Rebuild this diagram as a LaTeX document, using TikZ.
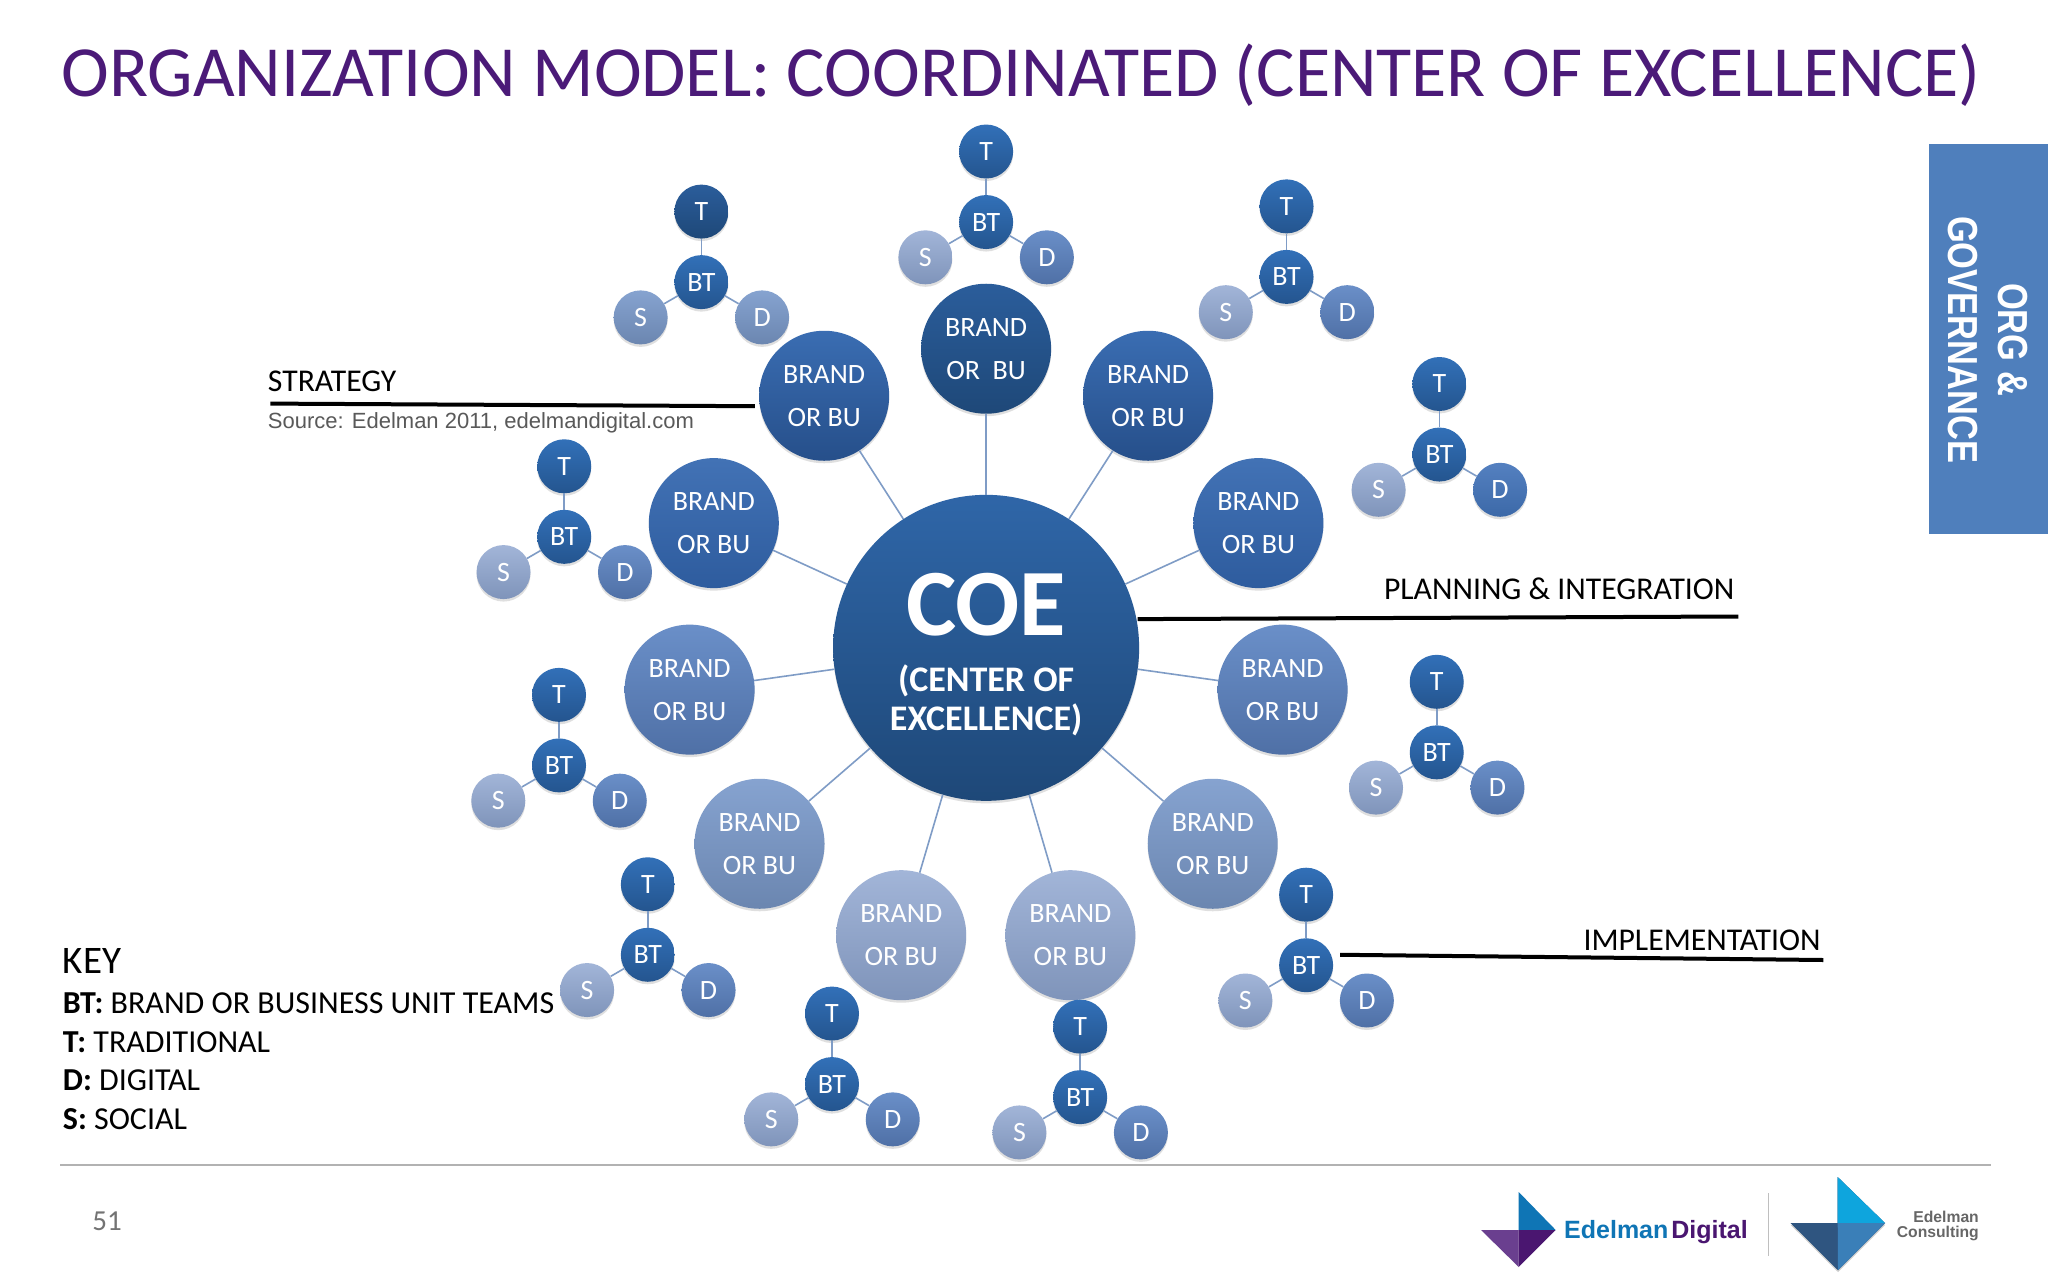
\documentclass[tikz,border=0pt]{standalone}
\usepackage{fontspec}
\setmainfont{Carlito}
\newfontfamily\arialf{Liberation Sans}
\usetikzlibrary{shadows}
\definecolor{titlecol}{HTML}{4B1A78}
\definecolor{tabcol}{HTML}{4F7FBC}
\definecolor{linkcol}{HTML}{7F9CC6}
\definecolor{lA1}{HTML}{2B5D9B}\definecolor{lA2}{HTML}{1E4878}
\definecolor{lB1}{HTML}{3270B8}\definecolor{lB2}{HTML}{24558F}
\definecolor{lG1}{HTML}{3A6DB2}\definecolor{lG2}{HTML}{264F8A}
\definecolor{lH1}{HTML}{4272B5}\definecolor{lH2}{HTML}{2E5C9E}
\definecolor{lC1}{HTML}{5480C0}\definecolor{lC2}{HTML}{3C69A8}
\definecolor{lD1}{HTML}{6A8FC8}\definecolor{lD2}{HTML}{4F70A6}
\definecolor{lE1}{HTML}{86A3D0}\definecolor{lE2}{HTML}{6B86B0}
\definecolor{lF1}{HTML}{A2B5D8}\definecolor{lF2}{HTML}{7F94BA}
\definecolor{coetop}{HTML}{2F66A8}
\definecolor{logoblue}{HTML}{0F75B5}
\definecolor{logopurple}{HTML}{4A1670}
\definecolor{logolav}{HTML}{6A3F8F}
\definecolor{logosky}{HTML}{0EA5DD}
\definecolor{logonavy}{HTML}{2F5580}
\definecolor{logomid}{HTML}{3A7FB8}
\tikzset{
  x=1.30612pt,y=-1.30612pt,
  bub/.style={circle,inner sep=0pt,text=white,align=center,
    drop shadow={opacity=.25,shadow xshift=0pt,shadow yshift=-2.5pt}},
  small/.style={bub,minimum size=54pt,font=\fontsize{28}{28}\selectfont},
  brand/.style={bub,minimum size=130pt,font=\fontsize{28}{43}\selectfont},
  lvA/.style={top color=lA1,bottom color=lA2},
  lvB/.style={top color=lB1,bottom color=lB2},
  lvC/.style={top color=lC1,bottom color=lC2},
  lvD/.style={top color=lD1,bottom color=lD2},
  lvE/.style={top color=lE1,bottom color=lE2},
  lvF/.style={top color=lF1,bottom color=lF2},
  lvG/.style={top color=lG1,bottom color=lG2},
  lvH/.style={top color=lH1,bottom color=lH2},
  link/.style={draw=linkcol,line width=1.6pt},
  callout/.style={draw=black,line width=4pt},
  lbl/.style={inner sep=0pt,text=black,font=\fontsize{31.7}{32}\selectfont},
  keyline/.style={inner sep=0pt,text=black,anchor=west,font=\fontsize{32}{32}\selectfont},
}
\newcommand{\cluster}[7]{%
  \node[small,#4] (#1t) at (#2,#3-54) {T};
  \node[small,#5] (#1b) at (#2,#3) {BT};
  \node[small,#6] (#1s) at (#2-46.5,#3+27) {S};
  \node[small,#7] (#1d) at (#2+46.5,#3+27) {D};
  \draw[link] (#1b) -- (#1t);
  \draw[link] (#1b) -- (#1s);
  \draw[link] (#1b) -- (#1d);
}
\newcommand{\brandnode}[4]{%
  \node[brand,#4] (#1) at (#2,#3) {BRAND\\OR BU};
  \draw[link] (coe) -- (#1);
}
\begin{document}
\begin{tikzpicture}
\useasboundingbox (0,0) rectangle (1568,980);
\fill[white] (0,0) rectangle (1568,980);
\node[anchor=base west,inner sep=0pt,text=titlecol,font=\fontsize{72}{72}\selectfont] (title) at (47,74) {ORGANIZATION MODEL: COORDINATED (CENTER OF EXCELLENCE)};
% side tab
\fill[tabcol] (1476.5,110) rectangle (1568,409);
\node[rotate=-90,text=white,align=center,inner sep=0pt,font=\arialf\bfseries\fontsize{42}{50}\selectfont] (tab) at (1522,260) {\scalebox{.82}[1]{ORG \&}\\\scalebox{.82}[1]{GOVERNANCE}};
% centre
\node[bub,minimum size=306pt,top color=coetop,bottom color=lA2] (coe) at (755,496) {};
\node[inner sep=0pt,text=white,font=\fontsize{95}{95}\selectfont\bfseries] (coet) at (755,463) {COE};
\node[inner sep=0pt,text=white,align=center,font=\fontsize{36}{39}\selectfont\bfseries] (coes) at (755,536.5) {(CENTER OF\\EXCELLENCE)};
\node[brand,lvA] (b1) at (755,267) {BRAND\\OR\ \ BU};
\draw[link] (coe) -- (b1);
\brandnode{b2}{631}{303}{lvG}
\brandnode{b3}{879}{303}{lvG}
\brandnode{b4}{546.5}{400.5}{lvH}
\brandnode{b5}{963.5}{400.5}{lvH}
\brandnode{b6}{528}{528}{lvD}
\brandnode{b7}{982}{528}{lvD}
\brandnode{b8}{581.5}{646}{lvE}
\brandnode{b9}{928.5}{646}{lvE}
\brandnode{b10}{690}{716}{lvF}
\brandnode{b11}{819.5}{716}{lvF}
\cluster{c1}{755}{170}{lvB}{lvB}{lvF}{lvD}
\cluster{c2}{537}{216}{lvA}{lvB}{lvE}{lvE}
\cluster{c3}{985}{212}{lvB}{lvB}{lvF}{lvD}
\cluster{c4}{1102}{348}{lvB}{lvB}{lvF}{lvC}
\cluster{c5}{432}{411}{lvB}{lvB}{lvF}{lvD}
\cluster{c6}{428}{586}{lvB}{lvB}{lvF}{lvD}
\cluster{c7}{1100}{576}{lvB}{lvB}{lvF}{lvD}
\cluster{c8}{496}{731}{lvB}{lvB}{lvF}{lvD}
\cluster{c9}{1000}{739}{lvB}{lvB}{lvF}{lvD}
\cluster{c10}{637}{830}{lvB}{lvB}{lvF}{lvD}
\cluster{c11}{827}{840}{lvB}{lvB}{lvF}{lvD}
% callouts
\node[lbl,anchor=base west] (lstr) at (205,300) {STRATEGY};
\coordinate (s1) at (207,309);\coordinate (s2) at (578,311);
\draw[callout] (s1) -- (s2);
\node[anchor=base west,inner sep=0pt,text=black!65,font=\arialf\fontsize{22}{22}\selectfont] (src) at (205,328) {Source: Edelman 2011, edelmandigital.com};
\node[lbl,anchor=base east] (lpl) at (1328,459) {PLANNING \& INTEGRATION};
\coordinate (p1) at (871,474);\coordinate (p2) at (1331,472);
\draw[callout] (p1) -- (p2);
\node[lbl,anchor=base east] (lim) at (1394,728) {IMPLEMENTATION};
\coordinate (i1) at (1026,731);\coordinate (i2) at (1396,735);
\draw[callout] (i1) -- (i2);
% key
\node[anchor=base west,inner sep=0pt,font=\fontsize{39}{39}\selectfont] (key) at (48,745) {KEY};
\node[keyline] (k1) at (48,768) {\textbf{BT:} BRAND OR BUSINESS UNIT TEAMS};
\node[keyline] (k2) at (48,798) {\textbf{T:} TRADITIONAL};
\node[keyline] (k3) at (48,827) {\textbf{D:} DIGITAL};
\node[keyline] (k4) at (48,857) {\textbf{S:} SOCIAL};
% footer
\coordinate (f1) at (46,892);\coordinate (f2) at (1524,892);
\draw[black!30,line width=1.6pt] (f1) -- (f2);
\node[inner sep=0pt,text=black!55,font=\fontsize{29}{29}\selectfont] (pg) at (82,935) {51};
% logos, in pixels of the full picture
\begin{scope}[x=1pt,y=-1pt]
\fill[logoblue] (1518.7,1192) -- (1555.7,1230) -- (1518.7,1230) -- cycle;
\fill[logolav] (1481,1230) -- (1518.7,1230) -- (1518.7,1267) -- cycle;
\fill[logopurple] (1518.7,1230) -- (1555.7,1230) -- (1518.7,1267) -- cycle;
\node[anchor=base west,inner sep=0pt,font=\arialf\bfseries\fontsize{25}{25}\selectfont] (ed) at (1564,1238) {\color{logoblue}Edelman\hspace{3pt}\color{logopurple}Digital};
\draw[black!25,line width=1pt] (1768.7,1193) -- (1768.7,1256);
\path[fill=logonavy,drop shadow={opacity=.4,shadow xshift=0pt,shadow yshift=-2pt}]
  (1837.7,1177) -- (1885,1223) -- (1838,1270) -- (1790.7,1223) -- (1837.7,1223) -- cycle;
\fill[logosky] (1837.7,1177) -- (1885,1223) -- (1837.7,1223) -- cycle;
\fill[logonavy] (1790.7,1223) -- (1837.7,1223) -- (1838,1270) -- cycle;
\fill[logomid] (1837.7,1223) -- (1885,1223) -- (1838,1270) -- cycle;
\node[anchor=east,inner sep=0pt,align=right,text=black!60,font=\arialf\bfseries\fontsize{15.7}{15}\selectfont] (ec) at (1979,1226) {Edelman\\Consulting};
\end{scope}
\end{tikzpicture}
\end{document}
